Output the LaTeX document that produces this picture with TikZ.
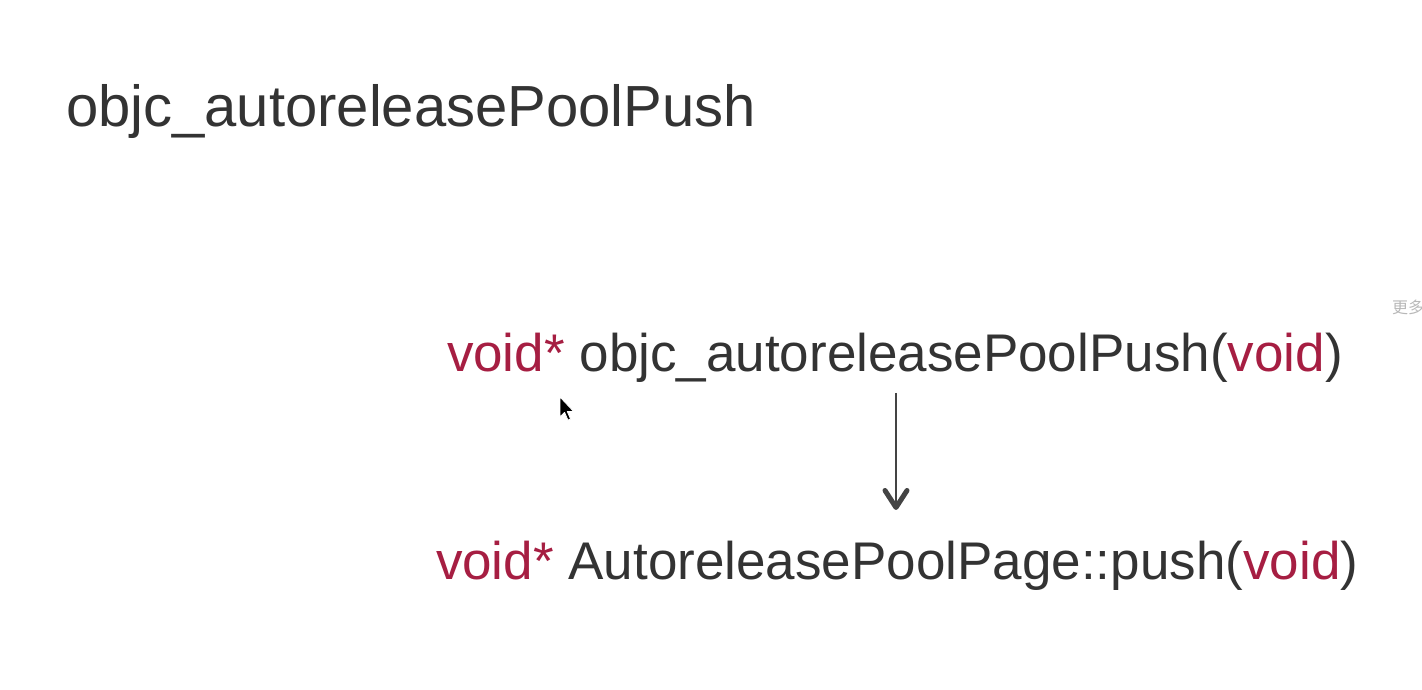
\documentclass[tikz,border=0pt]{standalone}
\usepackage{fontspec}
\setmainfont{Liberation Sans}
\newfontfamily\cjkfont{Noto Sans CJK SC}
\usetikzlibrary{arrows.meta}
\definecolor{txtgray}{HTML}{333333}
\definecolor{kwred}{HTML}{A61E42}
\definecolor{arrowgray}{HTML}{444444}
\definecolor{uigray}{HTML}{B8B8B8}
\tikzset{
  txt/.style={anchor=base west, inner sep=0pt, outer sep=0pt, text=txtgray},
  bigtxt/.style={txt, font=\fontsize{58}{66}\selectfont},
  codetxt/.style={txt, font=\fontsize{53}{60}\selectfont},
  flow/.style={draw=arrowgray, line width=1.6pt,
    -{Straight Barb[length=17pt, width=22pt, line width=5pt, round]}},
}
\newcommand{\kw}[1]{\textcolor{kwred}{#1}}
\begin{document}
\begin{tikzpicture}[x=1pt, y=1pt]
  \useasboundingbox[fill=white] (0,0) rectangle (1422,690);
  % title
  \node[bigtxt] (title) at (66, 690-127) {objc\_autoreleasePoolPush};
  % code lines
  \node[codetxt] (push) at (447, 690-372) {\kw{void*} objc\_autoreleasePoolPush(\kw{void})};
  \node[codetxt] (page) at (436, 690-580) {\kw{void*} AutoreleasePoolPage::push(\kw{void})};
  % arrow
  \coordinate (a1) at (896, 690-393);
  \coordinate (a2) at (896, 690-510);
  \draw[flow] (a1) -- (a2);
  % mouse cursor
  \begin{scope}[shift={(560,690-397)}, y=-1.1pt, x=1.1pt]
    \filldraw[fill=black, draw=white, line width=0.8pt, line join=round]
      (0,0) -- (0,18) -- (4.2,14) -- (7.2,21) -- (9.6,20) -- (6.6,13.2) -- (12.4,13.2) -- cycle;
  \end{scope}
  % cut-off UI label at right edge
  \begin{scope}
    \clip (1360, 690-330) rectangle (1422, 690-285);
    \node[anchor=base west, inner sep=0pt, text=uigray, font=\cjkfont\fontsize{16}{18}\selectfont] (more) at (1392, 690-314) {更多};
  \end{scope}
\end{tikzpicture}
\end{document}
